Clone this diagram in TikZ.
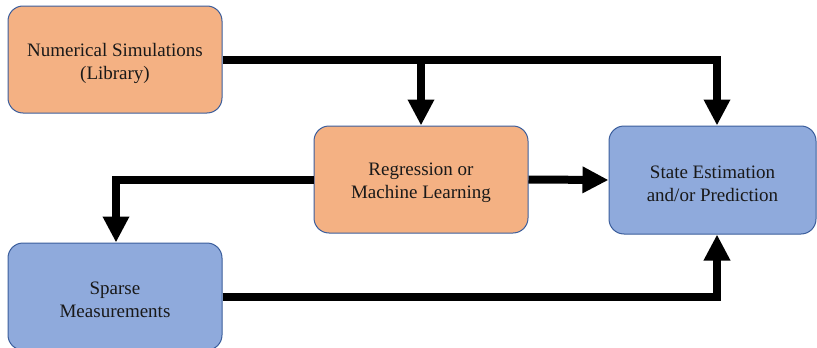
\documentclass[tikz,border=0pt]{standalone}
\usepackage{fontspec}
\setmainfont{Liberation Serif}
\usetikzlibrary{arrows.meta,positioning}
\definecolor{boxorange}{HTML}{F4B183}
\definecolor{boxblue}{HTML}{8FAADC}
\definecolor{boxedge}{HTML}{3B5E9C}
\tikzset{
  block/.style={draw=boxedge, line width=1pt, rounded corners=15pt,
    minimum width=214pt, minimum height=107pt, inner sep=0pt},
  caption/.style={align=center, font=\fontsize{19}{23}\selectfont,
    text=black!90, yshift=-3.5pt, inner sep=0pt},
  orangebox/.style={block, fill=boxorange},
  bluebox/.style={block, fill=boxblue},
  flow/.style={line width=8pt, -{Triangle[length=26pt,width=25pt]}}
}
\begin{document}
\begin{tikzpicture}[x=1pt,y=-1pt]
  \useasboundingbox (0,0) rectangle (817,348);
  \node[orangebox, label={[caption]center:Numerical Simulations\\(Library)}]
    (sim) at (115,59.5) {};
  \node[orangebox, label={[caption]center:Regression or\\Machine Learning}]
    (ml) at (421,179.5) {};
  \node[bluebox, minimum width=207pt, minimum height=108pt,
    label={[caption]center:State Estimation\\and/or Prediction}]
    (est) at (712.5,180) {};
  \node[bluebox, label={[caption]center:Sparse\\Measurements}]
    (meas) at (115,296.5) {};

  % library feeds both the model and the estimator
  \draw[flow] (sim.east) -| ([xshift=4.5pt]est.north);
  \draw[flow] (ml.north |- sim.east) -- (ml.north);
  % model output
  \draw[flow] (ml.east) -- (est.west);
  \draw[flow] (ml.west) -| ([xshift=1pt]meas.north);
  % measurements into the estimator
  \draw[flow] (meas.east) -| ([xshift=4.5pt]est.south);
\end{tikzpicture}
\end{document}
